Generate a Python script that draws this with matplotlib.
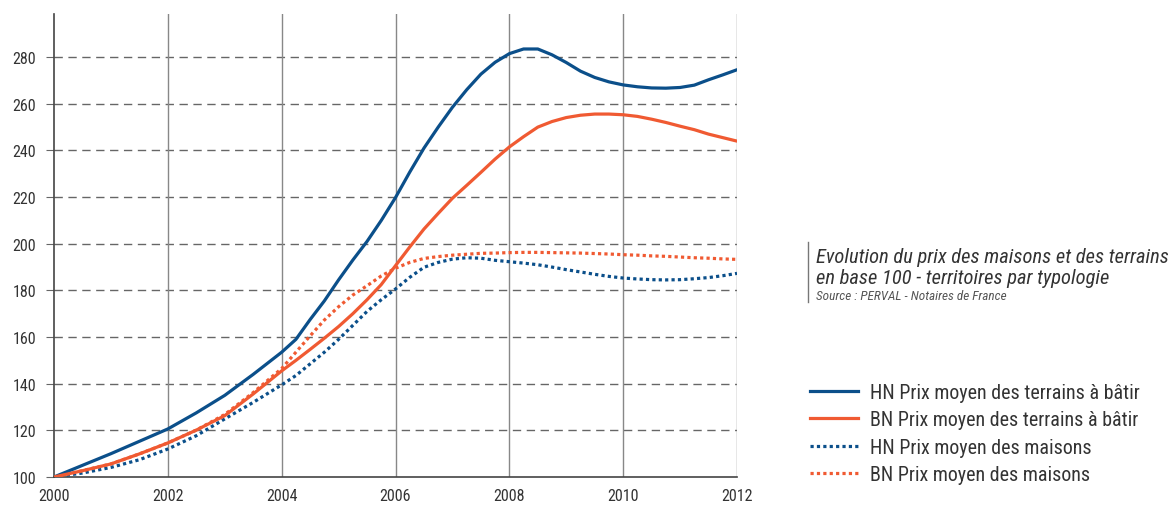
import matplotlib
matplotlib.use("Agg")
import matplotlib.pyplot as plt
from matplotlib.lines import Line2D

# values (base 100 in 2000)
years = [2000, 2000.5, 2001, 2001.5, 2002, 2002.5, 2003, 2003.5, 2004,
         2004.25, 2004.5, 2004.75, 2005, 2005.25, 2005.5, 2005.75, 2006,
         2006.25, 2006.5, 2006.75, 2007, 2007.25, 2007.5, 2007.75, 2008,
         2008.25, 2008.5, 2008.75, 2009, 2009.25, 2009.5, 2009.75, 2010,
         2010.25, 2010.5, 2010.75, 2011, 2011.25, 2011.5, 2011.75, 2012]
hn_terrains = [100, 105, 110, 115.3, 120.6, 127.5, 135, 144, 153.5,
               159, 167.5, 175.5, 184.5, 193, 201, 210, 219.8,
               230.7, 241, 250, 258.5, 266, 272.7, 277.8, 281.5,
               283.5, 283.5, 281, 277.7, 274, 271.3, 269.4, 268.1,
               267.3, 266.8, 266.7, 267, 268, 270.3, 272.4, 274.6]
bn_terrains = [100, 102.7, 105.6, 109.9, 114.6, 120.1, 126.3, 135.6, 145.5,
               150, 154.7, 159.5, 164.5, 170, 176, 182.5, 190.6,
               198.6, 206.3, 213, 219.5, 225, 230.6, 236.3, 241.5,
               245.9, 250, 252.4, 254.1, 255.1, 255.6, 255.6, 255.3,
               254.6, 253.4, 252, 250.4, 248.9, 247, 245.5, 244]
hn_maisons = [100, 101.7, 104.1, 107.4, 112, 117.7, 124.9, 132, 139.5,
              143.5, 148.5, 153.5, 159, 165, 171, 176, 180.6,
              185.6, 189.9, 192, 193.4, 194, 193.8, 192.9, 192.3,
              191.7, 191, 190, 188.9, 187.9, 186.9, 186, 185.3,
              184.9, 184.6, 184.5, 184.6, 185, 185.5, 186.3, 187.3]
bn_maisons = [100, 102.7, 105.6, 109.9, 114.6, 120.1, 126.8, 136.2, 146.5,
              153.5, 160.5, 167.3, 173, 178, 182, 186.2, 189.5,
              192, 193.7, 194.5, 195.1, 195.5, 195.9, 196, 196.2,
              196.3, 196.3, 196.2, 196.1, 196, 195.8, 195.6, 195.3,
              195.1, 194.8, 194.6, 194.3, 194, 193.8, 193.5, 193.3]

labels = ["HN Prix moyen des terrains à bâtir",
          "BN Prix moyen des terrains à bâtir",
          "HN Prix moyen des maisons",
          "BN Prix moyen des maisons"]

blue = "#0b4f8a"
orange = "#f05a32"
txt = "#333333"

plt.rcParams['font.family'] = ['Liberation Sans Narrow', 'DejaVu Sans Condensed', 'Roboto Condensed',
                               'DejaVu Sans']
plt.rcParams['font.stretch'] = 'condensed'

fig = plt.figure(figsize=(11.76, 5.10), dpi=100)
ax = fig.add_axes([54 / 1176, 1 - 478 / 510, (737 - 54) / 1176, (478 - 15) / 510])

ax.plot(years, hn_terrains, color=blue, lw=2.3, solid_capstyle='round', solid_joinstyle='round', zorder=4)
ax.plot(years, bn_terrains, color=orange, lw=2.3, solid_capstyle='round', solid_joinstyle='round', zorder=4)
ax.plot(years, hn_maisons, color=blue, lw=2.3, linestyle=(0, (1, 1)), zorder=3)
ax.plot(years, bn_maisons, color=orange, lw=2.3, linestyle=(0, (1, 1)), zorder=3)

ax.set_xlim(2000, 2012)
ax.set_ylim(100, 298.5)
ax.set_xticks(range(2000, 2013, 2))
ax.set_yticks(range(100, 281, 20))

for y in range(120, 281, 20):
    ax.axhline(y, color="#666666", lw=1, linestyle=(0, (6, 4)), zorder=1)
for x in range(2002, 2013, 2):
    ax.axvline(x, color="#888888", lw=1, zorder=1)

for s in ['top', 'right']:
    ax.spines[s].set_visible(False)
ax.spines['left'].set_color("#444444")
ax.spines['bottom'].set_color("#444444")
ax.spines['left'].set_linewidth(1.2)
ax.spines['bottom'].set_linewidth(1.2)
ax.tick_params(axis='y', length=6, color="#666666", labelsize=11.5, labelcolor=txt, pad=7)
ax.tick_params(axis='x', length=0, labelsize=11.5, labelcolor=txt, pad=8)

# title block
fig.add_artist(Line2D([808 / 1176, 808 / 1176], [1 - 243 / 510, 1 - 303 / 510],
                      color="#777777", lw=1))
fig.text(816 / 1176, 1 - 263 / 510, "Evolution du prix des maisons et des terrains",
         fontsize=14.8, style='italic', color=txt, va='baseline')
fig.text(816 / 1176, 1 - 284 / 510, "en base 100 - territoires par typologie",
         fontsize=14.8, style='italic', color=txt, va='baseline')
fig.text(816 / 1176, 1 - 300 / 510, "Source : PERVAL - Notaires de France",
         fontsize=9.5, style='italic', color="#555555", va='baseline')

# legend
handles = [Line2D([], [], color=blue, lw=2.3),
           Line2D([], [], color=orange, lw=2.3),
           Line2D([], [], color=blue, lw=2.3, linestyle=(0, (1, 1))),
           Line2D([], [], color=orange, lw=2.3, linestyle=(0, (1, 1)))]
fig.legend(handles, labels, loc='upper left', bbox_to_anchor=(792 / 1176, 1 - 366 / 510),
           frameon=False, fontsize=14.4, handlelength=2.4, handletextpad=0.6,
           labelspacing=0.42, labelcolor=txt)

fig.savefig("out.png", dpi=100)
